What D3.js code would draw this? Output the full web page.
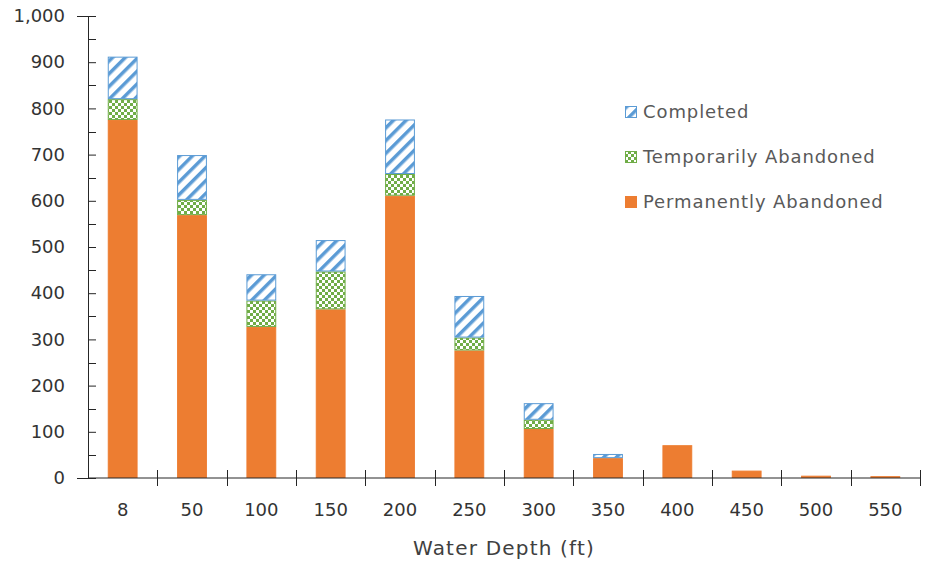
<!DOCTYPE html>
<html>
<head>
<meta charset="utf-8">
<script src="https://cdn.jsdelivr.net/npm/d3@7"></script>
<style>
    body { margin: 0; background: #fff; }
    text { font-family: "DejaVu Sans", sans-serif; }
</style>
</head>
<body>
<div id="chart"></div>
<script>
const depths = ["8", "50", "100", "150", "200", "250", "300", "350", "400", "450", "500", "550"];
const permanentlyAbandoned = [775, 569, 327, 365, 611, 276, 106, 43, 71, 16, 5, 4];
const temporarilyAbandoned = [45, 33, 57, 82, 47, 28, 20, 0, 0, 0, 0, 0];
const completed = [92, 97, 57, 68, 118, 90, 36, 9, 0, 0, 0, 0];
const seriesNames = ["Permanently Abandoned", "Temporarily Abandoned", "Completed"];
const yTicks = [0, 100, 200, 300, 400, 500, 600, 700, 800, 900, 1000];

const width = 927;
const height = 563;
const margin = { top: 16, right: 7, bottom: 85, left: 88 };
const innerW = width - margin.left - margin.right;
const innerH = height - margin.top - margin.bottom;

const svg = d3.select("#chart")
    .append("svg")
    .attr("width", width)
    .attr("height", height);

// patterns for the excel-like fills
const defs = svg.append("defs");
const stripes = defs.append("pattern")
    .attr("id", "stripes")
    .attr("patternUnits", "userSpaceOnUse")
    .attr("width", 9)
    .attr("height", 9)
    .attr("patternTransform", "rotate(45)");
stripes.append("rect").attr("width", 9).attr("height", 9).attr("fill", "#fff");
stripes.append("rect").attr("width", 3.5).attr("height", 9).attr("fill", "#5B9BD5");

const checker = defs.append("pattern")
    .attr("id", "checker")
    .attr("patternUnits", "userSpaceOnUse")
    .attr("width", 6)
    .attr("height", 6);
checker.append("rect").attr("width", 6).attr("height", 6).attr("fill", "#70AD47");
checker.append("rect").attr("x", 0).attr("y", 0).attr("width", 3).attr("height", 3).attr("fill", "#fff");
checker.append("rect").attr("x", 3).attr("y", 3).attr("width", 3).attr("height", 3).attr("fill", "#fff");

const fills = ["#ED7D31", "url(#checker)", "url(#stripes)"];
const strokes = ["#ED7D31", "#70AD47", "#5B9BD5"];

const x = d3.scaleBand()
    .domain(depths)
    .range([0, innerW])
    .paddingInner(0.57)
    .paddingOuter(0.285);

const y = d3.scaleLinear().domain([0, 1000]).range([innerH, 0]);

const g = svg.append("g").attr("transform", `translate(${margin.left},${margin.top})`);

const rows = depths.map((d, i) => ({
    depth: d,
    "Permanently Abandoned": permanentlyAbandoned[i],
    "Temporarily Abandoned": temporarilyAbandoned[i],
    "Completed": completed[i]
}));
const stacked = d3.stack().keys(seriesNames)(rows);

g.selectAll("g.series")
    .data(stacked)
    .join("g")
    .attr("class", "series")
    .each(function (s, si) {
        d3.select(this).selectAll("rect")
            .data(s.filter(d => d[1] - d[0] > 0))
            .join("rect")
            .attr("x", d => x(d.data.depth) + 0.5)
            .attr("width", x.bandwidth() - 1)
            .attr("y", d => y(d[1]) + 0.5)
            .attr("height", d => Math.max(0, y(d[0]) - y(d[1]) - 1))
            .attr("fill", fills[si])
            .attr("stroke", strokes[si])
            .attr("stroke-width", 1);
    });

// y axis
const axisColor = "#262626";
const yAxis = g.append("g")
    .call(d3.axisLeft(y).tickValues(yTicks).tickFormat(d3.format(",")).tickSize(11).tickPadding(12));
yAxis.select(".domain").attr("stroke", axisColor);
yAxis.selectAll(".tick line").attr("stroke", axisColor).attr("x2", 8);
yAxis.selectAll(".tick text")
    .attr("font-size", 18)
    .attr("fill", "#333");

// minor ticks on y
g.append("g")
    .selectAll("line")
    .data(d3.range(50, 1000, 100))
    .join("line")
    .attr("x1", 0)
    .attr("x2", 8)
    .attr("y1", d => Math.round(y(d)) + 0.5)
    .attr("y2", d => Math.round(y(d)) + 0.5)
    .attr("stroke", axisColor);

// x axis
const xAxisG = g.append("g").attr("transform", `translate(0,${innerH})`);
xAxisG.append("line")
    .attr("x1", 0).attr("x2", innerW)
    .attr("stroke", axisColor);
xAxisG.selectAll("line.tk")
    .data(depths)
    .join("line")
    .attr("class", "tk")
    .attr("x1", d => Math.round(x(d) - x.step() * x.paddingInner() / 2 + x.step()) + 0.5)
    .attr("x2", d => Math.round(x(d) - x.step() * x.paddingInner() / 2 + x.step()) + 0.5)
    .attr("y1", -8)
    .attr("y2", 8)
    .attr("stroke", axisColor);
xAxisG.selectAll("text")
    .data(depths)
    .join("text")
    .attr("x", d => x(d) + x.bandwidth() / 2)
    .attr("y", 38)
    .attr("text-anchor", "middle")
    .attr("font-size", 18)
    .attr("fill", "#333")
    .text(d => d);

svg.append("text")
    .attr("x", margin.left + innerW / 2)
    .attr("y", 555)
    .attr("text-anchor", "middle")
    .attr("font-size", 20)
    .attr("letter-spacing", 1.2)
    .attr("fill", "#404040")
    .text("Water Depth (ft)");

// legend
const legendItems = ["Completed", "Temporarily Abandoned", "Permanently Abandoned"];
const legendFill = { "Completed": fills[2], "Temporarily Abandoned": fills[1], "Permanently Abandoned": fills[0] };
const legendStroke = { "Completed": strokes[2], "Temporarily Abandoned": strokes[1], "Permanently Abandoned": strokes[0] };
const legend = svg.append("g").attr("transform", "translate(625,106)");
legend.selectAll("g")
    .data(legendItems)
    .join("g")
    .attr("transform", (d, i) => `translate(0,${i * 45})`)
    .each(function (d) {
        const it = d3.select(this);
        it.append("rect")
            .attr("x", 0.5).attr("y", 0.5)
            .attr("width", 11).attr("height", 11)
            .attr("fill", legendFill[d])
            .attr("stroke", legendStroke[d]);
        it.append("text")
            .attr("x", 18)
            .attr("y", 12)
            .attr("font-size", 18)
            .attr("letter-spacing", 0.9)
            .attr("fill", "#595959")
            .text(d);
    });
</script>
</body>
</html>
